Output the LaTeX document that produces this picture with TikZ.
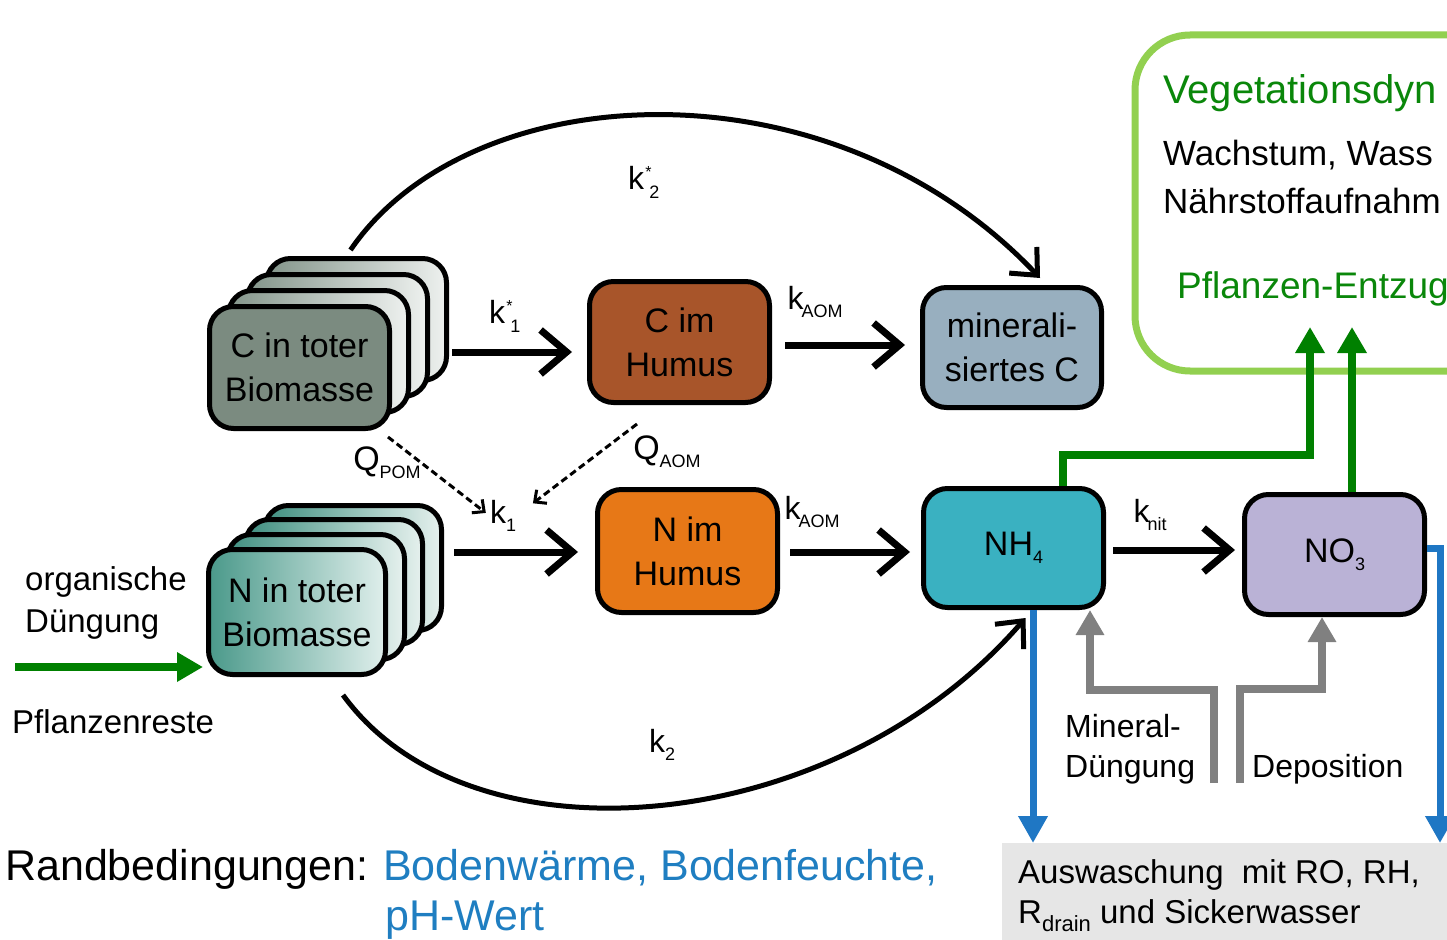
\documentclass[tikz,border=0pt]{standalone}
\usepackage{fontspec}
\setmainfont{Liberation Sans}
\usetikzlibrary{arrows.meta}
\newcommand{\myfs}[2]{\fontsize{#1}{#2}\selectfont}
\newcommand{\lowsub}[1]{\raisebox{-8pt}{\myfs{18}{18}#1}}
\definecolor{cfront}{HTML}{7B8B80}
\definecolor{cbl}{HTML}{83958A}
\definecolor{cbr}{HTML}{EEF1EF}
\definecolor{nfl}{HTML}{4A998A}
\definecolor{nfr}{HTML}{E0EFEC}
\definecolor{nbl}{HTML}{3F8F80}
\definecolor{nbr}{HTML}{E6F1EE}
\definecolor{chumc}{HTML}{A8552A}
\definecolor{minc}{HTML}{98AFBF}
\definecolor{nhumc}{HTML}{E77817}
\definecolor{nhc}{HTML}{3AB1C1}
\definecolor{noc}{HTML}{BAB2D6}
\definecolor{dgreen}{HTML}{008000}
\definecolor{tgreen}{HTML}{0A870A}
\definecolor{lgreen}{HTML}{92D050}
\definecolor{gline}{HTML}{808080}
\definecolor{bline}{HTML}{1F77C4}
\definecolor{btext}{HTML}{1F7EC1}
\definecolor{boxgray}{HTML}{E6E6E6}
\begin{document}
\begin{tikzpicture}[x=1pt,y=-1pt,
  box/.style={draw=black, line width=5pt, rounded corners=24pt, inner sep=0pt, align=center, font=\myfs{34}{44}, text=black},
  lab/.style={font=\myfs{32}{36}, inner sep=0pt},
  star/.style={font=\myfs{16}{16}, inner sep=0pt, anchor=north west},
  subn/.style={font=\myfs{18}{18}, inner sep=0pt, anchor=base west},
  qlab/.style={font=\myfs{34}{36}, inner sep=0pt},
  txt/.style={anchor=base west, inner sep=0pt, font=\myfs{33}{40}},
  blk/.style={line width=7pt, -{Straight Barb[length=26pt,width=44pt]}},
  crv/.style={line width=5pt, -{Straight Barb[length=21pt,width=38pt]}},
  dsh/.style={line width=3pt, dash pattern=on 7pt off 4pt, -{Straight Barb[length=9pt,width=17pt]}},
  garr/.style={draw=dgreen, line width=8pt, -{Triangle[length=26pt,width=28pt]}},
  grarr/.style={draw=gline, line width=8pt, -{Triangle[length=25pt,width=27pt]}},
  barr/.style={draw=bline, line width=7pt, -{Triangle[length=27pt,width=28pt]}}
]
\clip (0,0) rectangle (1447,939);
\fill[white] (0,0) rectangle (1447,939);

% vegetation box
\node[draw=lgreen, line width=7pt, rounded corners=55pt, anchor=north west, minimum width=420pt, minimum height=336pt, inner sep=0pt] (veg) at (1131.5,31.5) {};
\node[txt, font=\myfs{40}{44}, text=tgreen] (vegt) at (1163,103) {Vegetationsdyn};
\node[txt, font=\myfs{35}{40}] (w1) at (1163,165) {Wachstum, Wass};
\node[txt, font=\myfs{35}{40}] (w2) at (1163,213) {Nährstoffaufnahm};
\node[txt, font=\myfs{37}{40}, text=tgreen] (pe) at (1177,298) {Pflanzen-Entzug};

% leaching box
\node[fill=boxgray, anchor=north west, minimum width=460pt, minimum height=110pt, inner sep=0pt] (wash) at (1002,843) {};
\node[txt] (ws1) at (1018,883) {Auswaschung\ \ mit RO, RH,};
\node[txt] (ws2) at (1018,923) {R\lowsub{\myfs{22}{22}drain} und Sickerwasser};

% C stack
\node[box, minimum width=180pt, minimum height=122pt, left color=cbl, right color=cbr] (cb3) at (356.5,319.5) {};
\node[box, minimum width=180pt, minimum height=122pt, left color=cbl, right color=cbr] (cb2) at (337.5,335.5) {};
\node[box, minimum width=180pt, minimum height=122pt, left color=cbl, right color=cbr] (cb1) at (318.5,351.5) {};
\node[box, minimum width=180pt, minimum height=122pt, fill=cfront] (ctot) at (299.5,367.5) {C in toter\\Biomasse};

% N stack
\node[box, minimum width=177pt, minimum height=125pt, left color=nbl, right color=nbr] (nb3) at (353,568) {};
\node[box, minimum width=177pt, minimum height=125pt, left color=nbl, right color=nbr] (nb2) at (334,582) {};
\node[box, minimum width=177pt, minimum height=125pt, left color=nbl, right color=nbr] (nb1) at (316,597) {};
\node[box, minimum width=177pt, minimum height=125pt, left color=nfl, right color=nfr] (ntot) at (297,612) {N in toter\\Biomasse};

% pools
\node[box, minimum width=180pt, minimum height=121pt, fill=chumc] (chum) at (679.5,342) {C im\\Humus};
\node[box, minimum width=179pt, minimum height=120pt, fill=minc] (mineral) at (1012,347.5) {minerali-\\siertes C};
\node[box, minimum width=180pt, minimum height=123pt, fill=nhumc] (nhum) at (687.5,551) {N im\\Humus};
\node[box, minimum width=180pt, minimum height=119pt, fill=nhc] (nh4) at (1013.5,548) {NH\lowsub{4}};
\node[box, minimum width=180pt, minimum height=120pt, fill=noc] (no3) at (1334.5,554.5) {NO\lowsub{3}};

% rate labels
\node[lab] (k1s) at (497,312) {k};
\node[star] (k1star) at ([xshift=1pt]k1s.north east) {*};
\node[subn] (k1sub) at ([xshift=5pt,yshift=-9pt]k1s.base east) {1};
\node[lab] (kaom1) at (815,302) {k\kern-2pt\lowsub{AOM}};
\node[lab] (k1) at (503,516) {k\lowsub{1}};
\node[lab] (kaom2) at (812,512) {k\kern-2pt\lowsub{AOM}};
\node[lab] (knit) at (1150,515) {k\kern-2pt\lowsub{nit}};
\node[lab] (k2s) at (636,178) {k};
\node[star] (k2star) at ([xshift=1pt]k2s.north east) {*};
\node[subn] (k2sub) at ([xshift=5pt,yshift=-9pt]k2s.base east) {2};
\node[lab] (k2) at (662,745) {k\lowsub{2}};
\node[qlab] (qpom) at (387,463) {Q\lowsub{POM}};
\node[qlab] (qaom) at (667,452) {Q\lowsub{AOM}};

% straight black arrows
\draw[blk, shorten <=3pt, shorten >=15pt] (cb3.east |- 0,352) -- (chum.west |- 0,352);
\draw[blk, shorten <=13pt, shorten >=15pt] (chum.east |- 0,345) -- (mineral.west |- 0,345);
\draw[blk, shorten <=10pt, shorten >=17pt] (nb3.east |- 0,552) -- (nhum.west |- 0,552);
\draw[blk, shorten <=10pt, shorten >=11pt] (nhum.east |- 0,552) -- (nh4.west |- 0,552);
\draw[blk, shorten <=7pt, shorten >=7pt] (nh4.east |- 0,550) -- (no3.west |- 0,550);

% curved arrows
\draw[crv] ([xshift=-6pt,yshift=6pt]cb3.north) .. controls (470,75) and (830,56) .. ([xshift=28pt,yshift=7pt]mineral.north);
\draw[crv] ([xshift=46pt,yshift=-18pt]ntot.south) .. controls (470,870) and (834,839) .. ([xshift=12pt,yshift=-8pt]nh4.south);

% dashed arrows
\draw[dsh, shorten >=5pt] ([xshift=88.5pt,yshift=-6pt]ctot.south) -- (k1.west);
\draw[dsh, shorten >=21pt] ([xshift=-42.5pt,yshift=-19pt]chum.south) -- (k1.east);

% green arrows
\coordinate (veg1) at (1310,327);
\coordinate (veg2) at (1352,327);
\draw[garr] ([xshift=49.5pt]nh4.north) |- (1310,455) -- (veg1);
\draw[garr] ([xshift=17.5pt]no3.north) -- (veg2);
\coordinate (orgs) at (15,667);
\draw[garr, shorten >=3pt] (orgs) -- (ntot.west |- orgs);

% gray arrows
\coordinate (mdst) at (1214,783);
\coordinate (dpst) at (1240,783);
\draw[grarr] (mdst) |- (1090,690) -- (nh4.south -| 1090,0);
\draw[grarr] (dpst) |- (1322,689) -- (no3.south -| 1322,0);

% blue arrows
\draw[barr] (nh4.south -| 1033,0) -- (wash.north -| 1033,0);
\draw[barr] (no3.east |- 0,548) -| (wash.north -| 1440,0);

% texts
\node[txt] (org1) at (25,590) {organische};
\node[txt] (org2) at (25,632) {Düngung};
\node[txt] (pr) at (12,733) {Pflanzenreste};
\node[txt, font=\myfs{32}{40}] (md1) at (1065,737) {Mineral-};
\node[txt, font=\myfs{32}{40}] (md2) at (1065,777) {Düngung};
\node[txt, font=\myfs{32}{40}] (dep) at (1252,777) {Deposition};
\node[txt, font=\myfs{43}{50}] (rb) at (5,880) {Randbedingungen:};
\node[txt, font=\myfs{43}{50}, text=btext] (rb1) at (383,880) {Bodenwärme, Bodenfeuchte,};
\node[txt, font=\myfs{43}{50}, text=btext] (rb2) at (385,930) {pH-Wert};
\end{tikzpicture}
\end{document}
